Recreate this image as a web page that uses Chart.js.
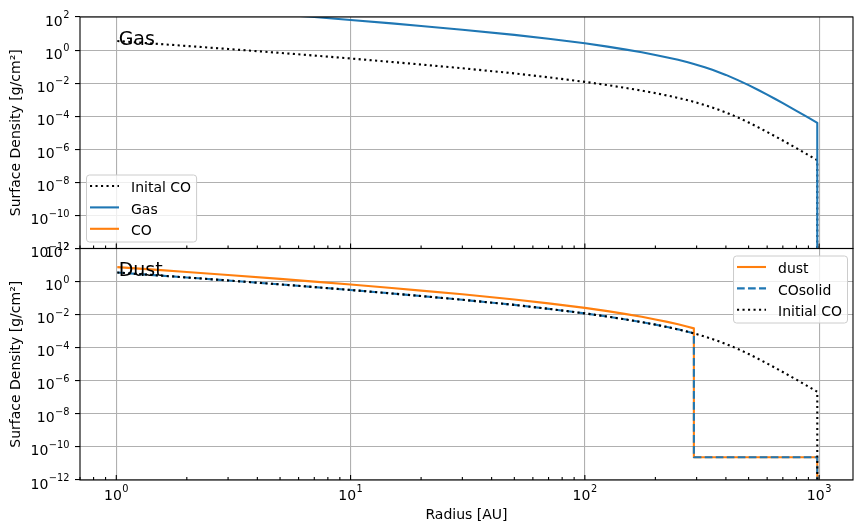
<!DOCTYPE html>
<html>
<head>
<meta charset="utf-8">
<script src="https://cdn.jsdelivr.net/npm/chart.js@4.4.1/dist/chart.umd.min.js"></script>
<style>
  html, body { margin: 0; padding: 0; background: #ffffff; }
  #c { display: block; }
</style>
</head>
<body>
<canvas id="c" width="863" height="532" style="width:863px;height:532px"></canvas>
<script>
// ---------------- data ----------------
const yTickValues = [1e-12, 1e-10, 1e-8, 1e-6, 1e-4, 1e-2, 1e0, 1e2];
const xTickValues = [1, 10, 100, 1000];
const panelTitles = ['Gas', 'Dust'];

// top panel
const radiusGasPanel = [1.01, 1.5, 2, 3, 5, 7, 10, 15, 20, 30, 50, 70, 100, 125, 150, 175, 200, 225, 250, 275, 292, 325, 350, 400, 450, 500, 550, 600, 650, 700, 800, 900, 982, 982];
const sigmaInitialCO = [3.52, 2.37, 1.77, 1.17, 0.676, 0.466, 0.310, 0.191, 0.133, 0.0794, 0.0389, 0.0224, 0.0120, 7.62e-3, 5.08e-3, 3.53e-3, 2.49e-3, 1.78e-3, 1.29e-3, 9.31e-4, 7.41e-4, 4.74e-4, 3.37e-4, 1.69e-4, 8.38e-5, 4.18e-5, 2.12e-5, 1.11e-5, 6.03e-6, 3.38e-6, 1.17e-6, 4.49e-7, 2.19e-7, 1e-12];
const sigmaGas = [752, 507, 379, 249, 145, 99.5, 66.4, 40.9, 28.4, 17.0, 8.32, 4.79, 2.57, 1.61, 1.06, 0.730, 0.509, 0.360, 0.257, 0.184, 0.145, 0.0914, 0.0643, 0.0315, 0.0152, 7.60e-3, 3.86e-3, 2.02e-3, 1.10e-3, 6.15e-4, 2.12e-4, 8.17e-5, 3.98e-5, 1e-12];
// gas-phase CO: not visible anywhere inside the plotted range
const radiusCOgas = [];
const sigmaCOgas = [];

// bottom panel
const radiusDustPanel = [1.01, 1.5, 2, 3, 5, 7, 10, 15, 20, 30, 50, 70, 100, 125, 150, 175, 200, 225, 250, 275, 292, 292, 982, 982];
const sigmaDust = [7.52, 5.07, 3.79, 2.49, 1.45, 0.995, 0.664, 0.409, 0.284, 0.170, 0.0832, 0.0479, 0.0257, 0.0163, 0.01074, 7.38e-3, 5.15e-3, 3.64e-3, 2.60e-3, 1.86e-3, 1.48e-3, 2.4e-11, 2.4e-11, 1e-12];
const sigmaCOsolid = [3.52, 2.37, 1.77, 1.17, 0.676, 0.466, 0.310, 0.191, 0.133, 0.0794, 0.0389, 0.0224, 0.0120, 7.62e-3, 5.08e-3, 3.53e-3, 2.49e-3, 1.78e-3, 1.29e-3, 9.31e-4, 7.41e-4, 2.4e-11, 2.4e-11, 1e-12];

// ---------------- styling ----------------
const FONT = "'DejaVu Sans', 'Noto Sans', sans-serif";
const BLUE = '#1f77b4', ORANGE = '#ff7f0e', BLACK = '#000000';
const LW = 2.1;
const DOTTED = [2.1, 3.4];
const DASHED = [7.7, 3.3];

function pts(xs, ys) { return xs.map((x, i) => ({ x: x, y: ys[i] })); }

const datasets = [
  { label: 'Inital CO', data: pts(radiusGasPanel, sigmaInitialCO), yAxisID: 'yGas', borderColor: BLACK, borderDash: DOTTED, order: 6, panel: 0 },
  { label: 'Gas', data: pts(radiusGasPanel, sigmaGas), yAxisID: 'yGas', borderColor: BLUE, borderDash: [], order: 5, panel: 0 },
  { label: 'CO', data: pts(radiusCOgas, sigmaCOgas), yAxisID: 'yGas', borderColor: ORANGE, borderDash: [], order: 4, panel: 0 },
  { label: 'dust', data: pts(radiusDustPanel, sigmaDust), yAxisID: 'yDust', borderColor: ORANGE, borderDash: [], order: 3, panel: 1 },
  { label: 'COsolid', data: pts(radiusDustPanel, sigmaCOsolid), yAxisID: 'yDust', borderColor: BLUE, borderDash: DASHED, order: 2, panel: 1 },
  { label: 'Initial CO', data: pts(radiusGasPanel, sigmaInitialCO), yAxisID: 'yDust', borderColor: BLACK, borderDash: DOTTED, order: 1, panel: 1 }
].map(d => Object.assign({
  borderWidth: LW, pointRadius: 0, pointHoverRadius: 0, fill: false, tension: 0,
  borderCapStyle: 'butt', borderJoinStyle: 'round'
}, d));

function drawPow(ctx, e, x, baseline, align) {
  const base = '10';
  const exp = (e < 0 ? '\u2212' : '') + Math.abs(e);
  ctx.font = '14px ' + FONT; const wb = ctx.measureText(base).width;
  ctx.font = '9.8px ' + FONT; const we = ctx.measureText(exp).width;
  const total = wb + we + 0.5;
  const x0 = align === 'right' ? x - total : x - total / 2;
  ctx.textAlign = 'left'; ctx.textBaseline = 'alphabetic'; ctx.fillStyle = '#000';
  ctx.font = '14px ' + FONT; ctx.fillText(base, x0, baseline);
  ctx.font = '9.8px ' + FONT; ctx.fillText(exp, x0 + wb + 0.5, baseline - 7.2);
}

function roundRect(ctx, x, y, w, h, r) {
  ctx.beginPath();
  ctx.moveTo(x + r, y); ctx.lineTo(x + w - r, y); ctx.arcTo(x + w, y, x + w, y + r, r);
  ctx.lineTo(x + w, y + h - r); ctx.arcTo(x + w, y + h, x + w - r, y + h, r);
  ctx.lineTo(x + r, y + h); ctx.arcTo(x, y + h, x, y + h - r, r);
  ctx.lineTo(x, y + r); ctx.arcTo(x, y, x + r, y, r);
  ctx.closePath();
}

function drawLegend(ctx, items, left, top) {
  ctx.font = '14px ' + FONT;
  const maxW = Math.max(...items.map(it => ctx.measureText(it.label).width));
  const w = 45 + maxW + 5, h = 67;
  roundRect(ctx, left + 0.5, top + 0.5, w, h, 3);
  ctx.fillStyle = 'rgba(255,255,255,0.8)'; ctx.fill();
  ctx.strokeStyle = '#cccccc'; ctx.lineWidth = 1; ctx.setLineDash([]); ctx.stroke();
  items.forEach((it, i) => {
    const ry = top + 11.5 + i * 21.4;
    ctx.beginPath();
    ctx.strokeStyle = it.borderColor; ctx.lineWidth = LW; ctx.lineCap = 'butt';
    ctx.setLineDash(it.borderDash || []);
    ctx.moveTo(left + 4, ry); ctx.lineTo(left + 33, ry); ctx.stroke();
    ctx.setLineDash([]);
    ctx.fillStyle = '#000'; ctx.textAlign = 'left'; ctx.textBaseline = 'alphabetic';
    ctx.font = '14px ' + FONT;
    ctx.fillText(it.label, left + 45, ry + 6.3);
  });
  return w;
}

const decor = {
  id: 'decor',
  afterDatasetsDraw(chart) {
    const ctx = chart.ctx;
    const xs = chart.scales.x;
    const area = chart.chartArea;
    const panels = [chart.scales.yGas, chart.scales.yDust];
    ctx.save();
    // x tick marks (inward) at bottom of each panel
    const minors = [];
    for (let e = -1; e <= 3; e++) for (let m = 2; m <= 9; m++) {
      const v = m * Math.pow(10, e);
      if (v > xs.min && v < xs.max) minors.push(v);
    }
    ctx.strokeStyle = '#000'; ctx.lineWidth = 1.1; ctx.setLineDash([]);
    panels.forEach(p => {
      ctx.beginPath();
      xTickValues.forEach(v => { const px = xs.getPixelForValue(v); ctx.moveTo(px, p.bottom); ctx.lineTo(px, p.bottom - 5); });
      minors.forEach(v => { const px = xs.getPixelForValue(v); ctx.moveTo(px, p.bottom); ctx.lineTo(px, p.bottom - 3); });
      ctx.stroke();
    });
    // spines
    ctx.lineWidth = 1.1;
    panels.forEach(p => { ctx.strokeRect(area.left, p.top, area.right - area.left, p.bottom - p.top); });
    // y tick labels
    panels.forEach(p => {
      yTickValues.forEach(v => drawPow(ctx, Math.round(Math.log10(v)), 69.5, p.getPixelForValue(v) + 8.5, 'right'));
    });
    // x tick labels
    xTickValues.forEach(v => drawPow(ctx, Math.round(Math.log10(v)), xs.getPixelForValue(v), 499.5, 'center'));
    // panel titles
    ctx.fillStyle = '#000'; ctx.font = '19px ' + FONT; ctx.textAlign = 'left'; ctx.textBaseline = 'alphabetic';
    panels.forEach((p, i) => {
      ctx.fillText(panelTitles[i], area.left + 0.05 * (area.right - area.left), p.bottom - 0.88 * (p.bottom - p.top));
    });
    // legends
    const ds = chart.data.datasets;
    const topItems = ds.filter(d => d.panel === 0);
    const botItems = ds.filter(d => d.panel === 1);
    drawLegend(ctx, topItems, area.left + 6, panels[0].bottom - 7 - 67);
    ctx.font = '14px ' + FONT;
    const wBot = 45 + Math.max(...botItems.map(it => ctx.measureText(it.label).width)) + 5;
    drawLegend(ctx, botItems, area.right - 6 - wBot, panels[1].top + 7);
    ctx.restore();
  }
};

const yAxis = () => ({
  type: 'logarithmic', position: 'left', stack: 'panels', stackWeight: 1,
  min: 1e-12, max: 1e2,
  afterBuildTicks: s => { s.ticks = yTickValues.map(v => ({ value: v })); },
  afterFit: s => { s.width = 80; },
  ticks: { display: false },
  grid: { color: '#b0b0b0', lineWidth: 1.1, drawTicks: true, tickLength: 5, tickColor: '#000', tickWidth: 1.1 },
  border: { display: false },
  title: { display: true, text: 'Surface Density [g/cm²]', color: '#000', font: { family: FONT, size: 14 }, padding: { top: 8, bottom: 0 } }
});

Chart.defaults.font.family = FONT;
new Chart(document.getElementById('c'), {
  type: 'line',
  data: { datasets: datasets },
  options: {
    responsive: false, animation: false, devicePixelRatio: 1,
    layout: { padding: { left: 0, right: 10, top: 17, bottom: 0 } },
    plugins: { legend: { display: false }, tooltip: { enabled: false } },
    events: [],
    scales: {
      x: {
        type: 'logarithmic', position: 'bottom', min: 0.718, max: 1395,
        afterBuildTicks: s => { s.ticks = xTickValues.map(v => ({ value: v })); },
        afterFit: s => { s.height = 52; },
        ticks: { display: false },
        grid: { color: '#b0b0b0', lineWidth: 1.1, drawTicks: false },
        border: { display: false },
        title: { display: true, text: 'Radius [AU]', color: '#000', font: { family: FONT, size: 14 }, padding: { top: 0, bottom: 8 } }
      },
      yDust: yAxis(),
      yGas: yAxis()
    }
  },
  plugins: [decor]
});
</script>
</body>
</html>
